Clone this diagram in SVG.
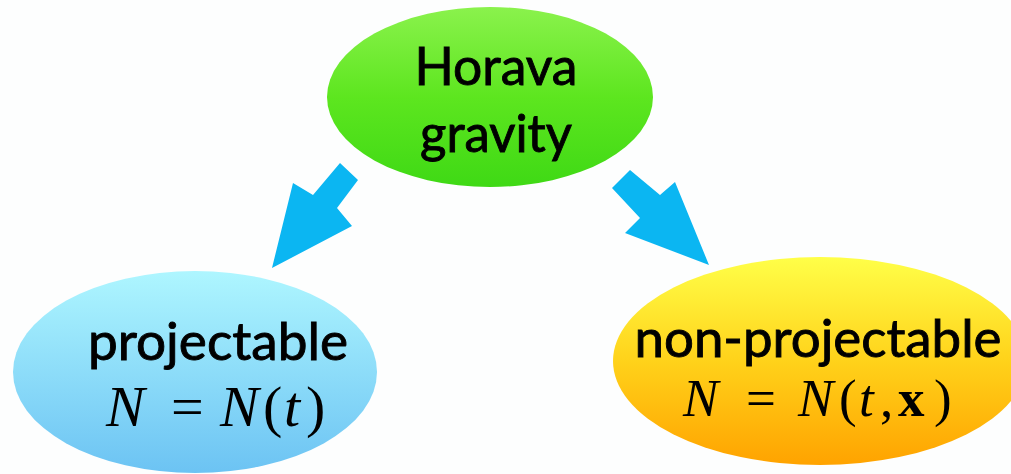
<svg xmlns="http://www.w3.org/2000/svg" width="1011" height="474" viewBox="0 0 1011 474">
<defs>
<linearGradient id="gG" x1="0" y1="0" x2="0" y2="1"><stop offset="0" stop-color="#8af24c"/><stop offset="0.5" stop-color="#5de61f"/><stop offset="1" stop-color="#3fd915"/></linearGradient>
<linearGradient id="gB" x1="0" y1="0" x2="0" y2="1"><stop offset="0" stop-color="#aef6ff"/><stop offset="1" stop-color="#6cc3f3"/></linearGradient>
<linearGradient id="gY" x1="0" y1="0" x2="0" y2="1"><stop offset="0" stop-color="#ffff48"/><stop offset="0.5" stop-color="#ffd21a"/><stop offset="1" stop-color="#ffa300"/></linearGradient>
</defs>
<style>
.lbl{font-family:Lato,"Open Sans","Liberation Sans",sans-serif;font-size:52px;fill:#000;stroke:#000;stroke-width:0.9;text-anchor:middle}
.math{font-family:"Liberation Serif","DejaVu Serif",serif;fill:#000}
.it{font-style:italic}
.bf{font-weight:bold}
.arrow{fill:#0bb6f2}
</style>
<rect width="1011" height="474" fill="#fdfefe"/>
<g id="connectors">
<polygon class="arrow" points="340,163 358,180 337,208 352,226 272,268 293,183 313,195"/>
<polygon class="arrow" points="630,170 660,195 675,182 709,265 625,233 640,218 612,188"/>
</g>
<g id="horava">
<ellipse cx="490" cy="97" rx="163" ry="90" fill="url(#gG)"/>
<text class="lbl" x="496" y="85" textLength="163" lengthAdjust="spacingAndGlyphs">Horava</text>
<text class="lbl" x="496" y="152" textLength="152" lengthAdjust="spacingAndGlyphs">gravity</text>
</g>
<g id="projectable">
<ellipse cx="195" cy="372" rx="182" ry="101" fill="url(#gB)"/>
<text class="lbl" x="218" y="360" textLength="260" lengthAdjust="spacingAndGlyphs">projectable</text>
<text class="math" y="426" font-size="58"><tspan class="it" x="106">N</tspan><tspan x="171">=</tspan><tspan class="it" x="220">N</tspan><tspan x="263">(</tspan><tspan class="it" x="284">t</tspan><tspan x="306">)</tspan></text>
</g>
<g id="nonprojectable">
<ellipse cx="820" cy="361" rx="207" ry="104" fill="url(#gY)"/>
<text class="lbl" x="818" y="357" textLength="367" lengthAdjust="spacingAndGlyphs">non-projectable</text>
<text class="math" y="416" font-size="53"><tspan class="it" x="683">N</tspan><tspan x="746">=</tspan><tspan class="it" x="798">N</tspan><tspan x="839">(</tspan><tspan class="it" x="859">t</tspan><tspan x="880">,</tspan><tspan class="bf" x="898">x</tspan><tspan x="934">)</tspan></text>
</g>
</svg>
